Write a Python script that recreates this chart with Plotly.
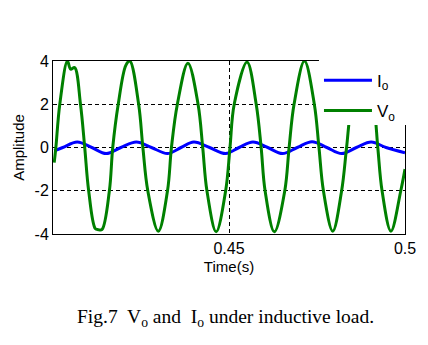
import plotly.graph_objects as go

# Output voltage Vo (peaks, troughs, ±2 and 0 crossings)
t_vo = [0.40034, 0.40081, 0.40193, 0.40409, 0.40501, 0.40613, 0.40781, 0.40901,
        0.41013, 0.41201, 0.41285, 0.41389, 0.41602, 0.41697, 0.41853, 0.42069,
        0.42181, 0.42433, 0.42553, 0.42693, 0.42993, 0.43253, 0.43365, 0.43533,
        0.43833, 0.44121, 0.44253, 0.44373, 0.44636, 0.44905, 0.45028, 0.45148,
        0.45512, 0.45773, 0.45913, 0.46025, 0.46288, 0.46585, 0.46708, 0.46848,
        0.47144, 0.47424, 0.47556, 0.47682, 0.47948, 0.48200, 0.48340, 0.48480,
        0.48802, 0.49110, 0.49227, 0.49348, 0.49600, 0.49880, 0.50000]
vo = [-0.7, 0.0, 2.0, 4.0, 3.62, 3.7, 2.0, 0.0,
      -2.0, -3.75, -3.8, -3.8, -2.0, 0.0, 2.0, 3.8,
      4.0, 2.0, 0.0, -2.0, -3.87, -2.0, 0.0, 2.0,
      3.9, 2.0, 0.0, -2.0, -3.9, -2.0, 0.0, 2.0,
      3.95, 2.0, 0.0, -2.0, -3.9, -2.0, 0.0, 2.0,
      4.0, 2.0, 0.0, -2.0, -3.87, -2.0, 0.0, 2.0,
      4.0, 2.0, 0.0, -2.0, -3.87, -2.0, -1.0]

# Output current Io
t_io = [0.40034, 0.40277, 0.40689, 0.41103, 0.41509, 0.41929, 0.42368, 0.42797,
        0.43253, 0.43637, 0.44001, 0.44448, 0.44905, 0.45288, 0.45680, 0.46100,
        0.46520, 0.46940, 0.47360, 0.47780, 0.48200, 0.48620, 0.49040, 0.49460,
        0.50000]
io = [-0.16, 0.0, 0.25, 0.0, -0.28, 0.0, 0.25, 0.0,
      -0.28, 0.0, 0.25, 0.0, -0.28, 0.0, 0.25, 0.0,
      -0.28, 0.0, 0.27, 0.0, -0.28, 0.0, 0.25, 0.0,
      -0.24]

x_tick_vals = [0.45, 0.5]
x_tick_text = ["0.45", "0.5"]
y_tick_vals = [-4, -2, 0, 2, 4]
y_tick_text = ["-4", "-2", "0", "2", "4"]

fig = go.Figure()
fig.add_trace(go.Scatter(x=t_io, y=io, mode="lines", name="I<sub>o</sub>",
                         legendgroup="io",
                         line=dict(color="#0000ff", width=3, shape="spline", smoothing=1.0)))
fig.add_trace(go.Scatter(x=t_vo, y=vo, mode="lines", name="V<sub>o</sub>",
                         legendgroup="vo",
                         line=dict(color="#008000", width=3, shape="spline", smoothing=1.0)))

axis_common = dict(showgrid=True, gridcolor="black", gridwidth=1, griddash="4px,3px",
                   showline=True, linecolor="black", linewidth=1, mirror=True,
                   zeroline=False, ticks="", tickfont=dict(size=16, color="black"))

fig.update_layout(
    width=428, height=345,
    margin=dict(l=53, r=19, t=61, b=111),
    paper_bgcolor="white", plot_bgcolor="white",
    font=dict(family="Arial, Liberation Sans, sans-serif", size=15, color="black"),
    xaxis=dict(range=[0.4, 0.5], tickmode="array", tickvals=x_tick_vals, ticktext=x_tick_text,
               title=dict(text="Time(s)", font=dict(size=15), standoff=5), **axis_common),
    yaxis=dict(range=[-4, 4], tickmode="array", tickvals=y_tick_vals, ticktext=y_tick_text,
               title=dict(text="Amplitude", font=dict(size=15), standoff=6), **axis_common),
    legend=dict(x=0.7556, y=0.99, xanchor="left", yanchor="top",
                bgcolor="rgba(0,0,0,0)", font=dict(size=17, color="black"),
                itemwidth=48, traceorder="grouped", tracegroupgap=5),
    shapes=[dict(type="rect", xref="paper", yref="paper", x0=0.7556, x1=1.2, y0=0.630, y1=1.15,
                 fillcolor="white", line=dict(width=0), layer="above")],
    annotations=[dict(text="Fig.7  V<sub>o</sub> and  I<sub>o</sub> under inductive load.",
                      xref="paper", yref="paper", x=0.489, y=-0.486,
                      xanchor="center", yanchor="middle", showarrow=False,
                      font=dict(family="Times New Roman, Liberation Serif, serif", size=19.5, color="black"))],
)

fig.write_html("out.html")
